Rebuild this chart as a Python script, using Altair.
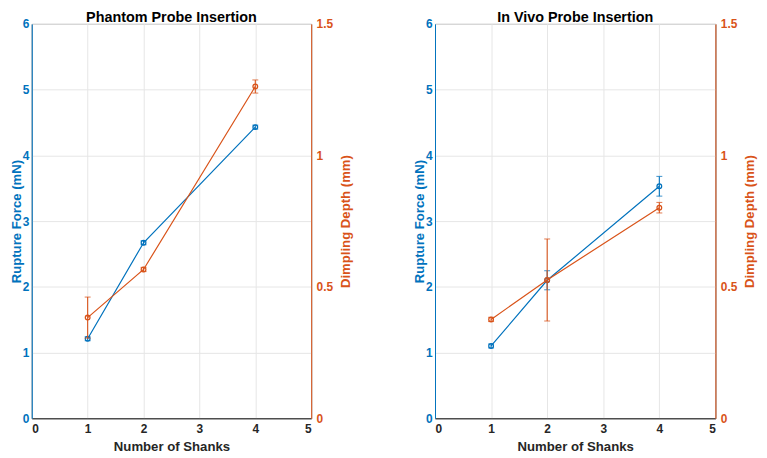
import altair as alt
import pandas as pd

# ---- data ----
shanks = [1, 2, 4]

phantom_force = [1.21, 2.67, 4.43]
phantom_force_err = [0.03, 0.03, 0.03]
phantom_depth = [0.383, 0.566, 1.262]
phantom_depth_err = [0.078, 0.008, 0.025]

vivo_force = [1.10, 2.10, 3.53]
vivo_force_err = [0.03, 0.145, 0.15]
vivo_depth = [0.376, 0.526, 0.801]
vivo_depth_err = [0.008, 0.156, 0.02]

titles = ["Phantom Probe Insertion", "In Vivo Probe Insertion"]
x_ticks = [0, 1, 2, 3, 4, 5]
force_ticks = [0, 1, 2, 3, 4, 5, 6]
depth_ticks = [0, 0.5, 1, 1.5]

BLUE = "#0072BD"
ORANGE = "#D95319"
DARK = "#262626"
FONT = "Liberation Sans"


def panel(title, force, ferr, depth, derr, width):
    df = pd.DataFrame({
        "shanks": shanks,
        "force": force,
        "f_lo": [v - e for v, e in zip(force, ferr)],
        "f_hi": [v + e for v, e in zip(force, ferr)],
        "depth": depth,
        "d_lo": [v - e for v, e in zip(depth, derr)],
        "d_hi": [v + e for v, e in zip(depth, derr)],
    })
    base = alt.Chart(df)
    x_scale = alt.Scale(domain=[0, 5], nice=False)
    x_enc = alt.X("shanks:Q", scale=x_scale, title="Number of Shanks",
                  axis=alt.Axis(values=x_ticks, orient="bottom", grid=True,
                                domainColor=DARK, labelColor=DARK, titleColor=DARK,
                                labelPadding=5, titlePadding=6))

    f_scale = alt.Scale(domain=[0, 6], nice=False)
    f_axis = alt.Axis(values=force_ticks, orient="left", grid=True,
                      domainColor=BLUE, labelColor=BLUE, titleColor=BLUE,
                      labelPadding=3, titlePadding=-1)
    d_scale = alt.Scale(domain=[0, 1.5], nice=False)
    d_axis = alt.Axis(values=depth_ticks, orient="right", grid=False, format="~g",
                      domainColor=ORANGE, labelColor=ORANGE, titleColor=ORANGE,
                      labelPadding=5, titlePadding=6, titleAngle=270, titleBaseline="top")

    f_title = "Rupture Force (mN)"
    d_title = "Dimpling Depth (mm)"

    blue = alt.layer(
        base.mark_errorbar(color=BLUE, ticks=True, size=6, thickness=1.1).encode(
            x=x_enc, y=alt.Y("f_lo:Q", scale=f_scale, axis=f_axis, title=f_title),
            y2="f_hi:Q"),
        base.mark_line(color=BLUE, strokeWidth=1.2).encode(
            x=x_enc, y=alt.Y("force:Q", scale=f_scale, axis=f_axis, title=f_title)),
        base.mark_point(color=BLUE, filled=False, size=22, strokeWidth=1.3, opacity=1).encode(
            x=x_enc, y=alt.Y("force:Q", scale=f_scale, axis=f_axis, title=f_title)),
    )
    orange = alt.layer(
        base.mark_errorbar(color=ORANGE, ticks=True, size=6, thickness=1.1).encode(
            x=x_enc, y=alt.Y("d_lo:Q", scale=d_scale, axis=d_axis, title=d_title),
            y2="d_hi:Q"),
        base.mark_line(color=ORANGE, strokeWidth=1.2).encode(
            x=x_enc, y=alt.Y("depth:Q", scale=d_scale, axis=d_axis, title=d_title)),
        base.mark_point(color=ORANGE, filled=False, size=22, strokeWidth=1.3, opacity=1).encode(
            x=x_enc, y=alt.Y("depth:Q", scale=d_scale, axis=d_axis, title=d_title)),
    )
    return (
        alt.layer(blue, orange)
        .resolve_scale(y="independent")
        .properties(title=title, width=width, height=398)
    )


left = panel(titles[0], phantom_force, phantom_force_err, phantom_depth, phantom_depth_err, 282)
right = panel(titles[1], vivo_force, vivo_force_err, vivo_depth, vivo_depth_err, 283)

chart = (
    alt.hconcat(left, right, spacing=125, bounds="flush")
    .properties(padding={"left": 0, "top": 0, "right": 2, "bottom": 0},
                background="white")
    .configure_view(stroke=DARK, strokeWidth=1)
    .configure_axis(labelFont=FONT, titleFont=FONT, labelFontWeight="bold",
                    titleFontWeight="bold", labelFontSize=12, titleFontSize=13.3,
                    ticks=False, gridColor="#e6e6e6", gridWidth=1, domainWidth=1)
    .configure_title(font=FONT, fontSize=14.5, fontWeight="bold", color="black",
                     offset=-8, anchor="middle")
)

chart.save("out.html", embed_options={"renderer": "svg", "actions": False})
